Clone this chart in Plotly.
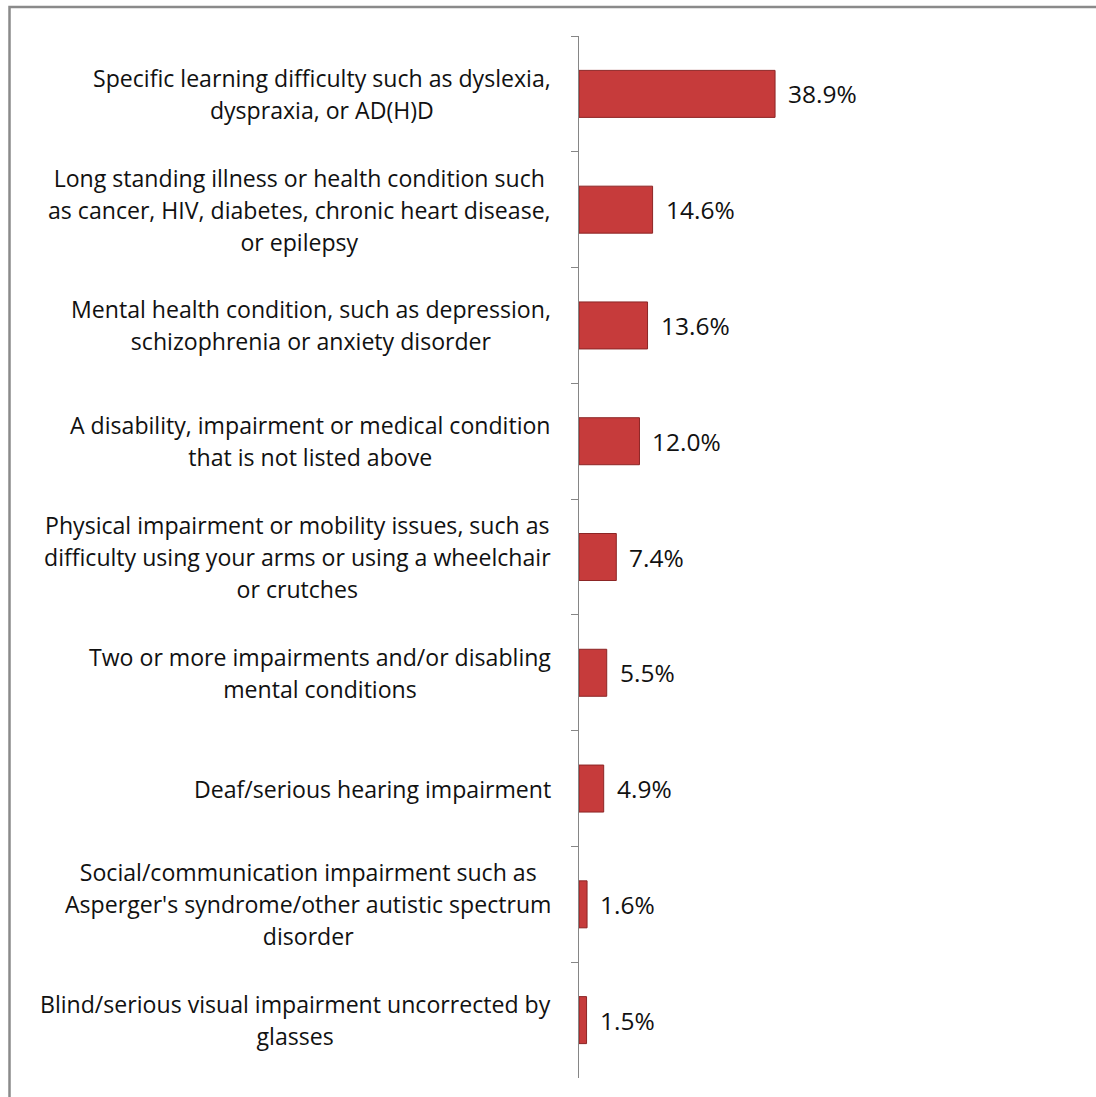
import plotly.graph_objects as go

categories = [
    "Specific learning difficulty such as dyslexia, dyspraxia, or AD(H)D",
    "Long standing illness or health condition such as cancer, HIV, diabetes, chronic heart disease, or epilepsy",
    "Mental health condition, such as depression, schizophrenia or anxiety disorder",
    "A disability, impairment or medical condition that is not listed above",
    "Physical impairment or mobility issues, such as difficulty using your arms or using a wheelchair or crutches",
    "Two or more impairments and/or disabling mental conditions",
    "Deaf/serious hearing impairment",
    "Social/communication impairment such as Asperger's syndrome/other autistic spectrum disorder",
    "Blind/serious visual impairment uncorrected by glasses",
]
label_lines = [
    ["Specific learning difficulty such as dyslexia,", "dyspraxia, or AD(H)D"],
    ["Long standing illness or health condition such", "as cancer, HIV, diabetes, chronic heart disease,", "or epilepsy"],
    ["Mental health condition, such as depression,", "schizophrenia or anxiety disorder"],
    ["A disability, impairment or medical condition", "that is not listed above"],
    ["Physical impairment or mobility issues, such as", "difficulty using your arms or using a wheelchair", "or crutches"],
    ["Two or more impairments and/or disabling", "mental conditions"],
    ["Deaf/serious hearing impairment"],
    ["Social/communication impairment such as", "Asperger's syndrome/other autistic spectrum", "disorder"],
    ["Blind/serious visual impairment uncorrected by", "glasses"],
]
values = [38.9, 14.6, 13.6, 12.0, 7.4, 5.5, 4.9, 1.6, 1.5]
value_labels = ["38.9%", "14.6%", "13.6%", "12.0%", "7.4%", "5.5%", "4.9%", "1.6%", "1.5%"]

FONT = "Open Sans"
W, H = 1096, 1097
ML, MR, MT, MB = 579, 13, 36, 19
PW = W - ML - MR
PH = H - MT - MB

fig = go.Figure()
fig.add_trace(go.Bar(
    x=values, y=categories, orientation="h",
    marker=dict(color="#C63B3B", line=dict(color="#8C2525", width=1)),
    hoverinfo="skip",
))

annotations = []
for cat, lines in zip(categories, label_lines):
    txt = "<br>".join(f"<span style='font-size:23.1px'>{l}</span>" for l in lines)
    annotations.append(dict(
        x=0, xref="paper", y=cat, yref="y", text=txt, showarrow=False,
        xanchor="right", yanchor="middle", align="center", xshift=-26,
        font=dict(family=FONT, size=24.6, color="#111111"),
    ))
for cat, v, vl in zip(categories, values, value_labels):
    annotations.append(dict(
        x=v, xref="x", y=cat, yref="y", text=vl, showarrow=False,
        xanchor="left", yanchor="middle", xshift=11,
        font=dict(family=FONT, size=24.5, color="#111111"),
    ))

def px_x(p):
    return (p - ML) / PW

def px_y(p):
    return (H - MB - p) / PH

fig.update_layout(
    width=W, height=H,
    margin=dict(l=ML, r=MR, t=MT, b=MB),
    paper_bgcolor="white", plot_bgcolor="white",
    showlegend=False, bargap=0.594,
    annotations=annotations,
    shapes=[dict(type="rect", xref="paper", yref="paper",
                 x0=px_x(9.5), x1=px_x(1300), y0=px_y(1300), y1=px_y(7),
                 line=dict(color="#8A8A8A", width=2.5), fillcolor="rgba(0,0,0,0)", layer="below")],
    xaxis=dict(range=[0, 100], visible=False, fixedrange=True),
    yaxis=dict(categoryorder="array", categoryarray=categories, autorange="reversed",
               showticklabels=False, ticks="outside", ticklen=7, tickcolor="#868686",
               tickson="boundaries", showline=True, linecolor="#868686", linewidth=1,
               showgrid=False, zeroline=False),
)

fig.write_html("out.html")
